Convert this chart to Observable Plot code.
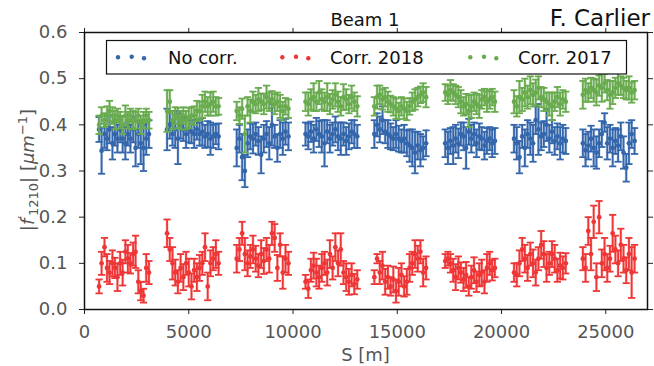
<!DOCTYPE html>
<html><head><meta charset="utf-8">
<script src="https://cdn.jsdelivr.net/npm/d3@7"></script>
<script src="https://cdn.jsdelivr.net/npm/@observablehq/plot@0.6"></script>
<style>body{margin:0;background:#fff} #chart svg{display:block}</style>
</head><body><div id="chart"></div>
<script>
// BPM positions S [m], 8 arcs x 20 points
const S = [
  700,820,960,1080,1200,1340,1460,1580,1710,1830,1960,2080,2200,2330,2450,2580,2700,2830,2960,3090,
  3960,4090,4220,4350,4480,4610,4740,4870,5000,5130,5260,5390,5520,5650,5780,5910,6040,6170,6300,6430,
  7300,7430,7560,7690,7820,7950,8080,8210,8340,8470,8600,8730,8860,8990,9120,9250,9380,9510,9640,9780,
  10600,10730,10860,10990,11120,11250,11380,11510,11640,11770,11900,12030,12160,12290,12420,12550,12680,12810,12940,13080,
  13900,14030,14160,14290,14420,14550,14680,14810,14940,15070,15200,15330,15460,15590,15720,15850,15980,16110,16240,16380,
  17300,17430,17550,17680,17800,17930,18050,18180,18300,18430,18550,18680,18800,18930,19050,19180,19300,19430,19550,19680,
  20600,20730,20860,20990,21120,21250,21380,21510,21640,21770,21900,22030,22160,22290,22420,22550,22680,22810,22940,23080,
  23900,24030,24160,24290,24420,24550,24680,24810,24940,25070,25200,25330,25460,25590,25720,25850,25980,26110,26240,26380
];
// |f1210| values in thousandths of um^-1
const noCorr = [
  390,344,380,370,390,360,380,370,390,370,360,380,370,390,350,380,360,350,370,380,
  390,400,380,390,370,400,390,380,390,385,380,390,380,385,375,380,370,375,380,375,
  350,370,330,300,360,375,370,380,365,335,370,380,360,400,375,350,380,370,385,375,
  380,375,385,370,390,380,375,360,385,370,380,390,375,370,380,365,375,385,380,375,
  380,400,390,410,385,380,375,370,380,370,365,370,360,355,350,340,355,345,350,360,
  360,350,365,355,370,360,380,375,350,385,370,380,360,375,370,355,365,370,360,365,
  370,360,330,375,350,380,370,360,410,390,375,380,400,370,385,365,375,360,370,365,
  360,345,355,370,350,340,360,380,405,360,370,350,365,355,375,340,307,360,380,365
];
const noCorrErr = [
  27,50,30,25,30,35,25,30,28,30,35,25,30,28,40,30,45,50,35,30,
  45,30,25,40,55,30,25,30,28,25,30,22,25,30,25,28,35,25,22,28,
  40,30,50,35,30,28,32,25,30,40,30,28,35,45,25,30,30,35,28,30,
  25,28,22,30,25,28,35,50,25,30,25,28,30,35,25,30,28,25,30,25,
  30,25,28,30,25,30,28,25,30,28,25,30,28,35,40,45,30,35,25,28,
  30,35,28,40,30,32,25,30,45,28,30,25,30,28,25,30,28,25,30,28,
  30,35,35,25,40,30,35,40,30,55,30,28,35,30,25,30,28,35,30,28,
  30,35,30,28,40,35,30,28,20,35,30,40,28,35,30,35,30,45,30,28
];
const corr2018 = [
  50,100,135,90,80,100,90,70,100,80,125,110,100,120,125,60,40,30,90,80,
  165,130,100,80,60,90,70,100,80,50,85,70,90,100,135,50,100,110,120,100,
  110,130,165,120,100,115,130,110,95,120,105,130,110,165,155,90,140,80,110,100,
  60,45,85,95,80,70,90,100,80,120,90,135,100,130,80,70,60,75,55,65,
  70,110,80,95,60,70,50,65,40,60,75,50,60,90,100,120,110,125,80,90,
  105,110,100,85,70,90,80,65,75,50,70,85,60,75,80,60,90,100,85,90,
  80,75,100,130,110,90,120,100,80,110,140,120,90,100,120,110,85,95,90,100,
  110,90,170,120,190,70,200,100,120,90,110,165,130,100,140,110,85,120,80,110
];
const corr2018Err = [
  15,25,20,30,25,28,22,30,25,28,25,30,22,25,35,25,20,15,30,25,
  30,25,35,28,25,30,28,25,30,28,25,30,28,25,30,30,28,25,30,25,
  30,25,25,35,28,25,30,28,25,30,28,25,30,25,30,28,25,35,30,25,
  15,20,25,28,30,25,30,25,28,30,25,30,28,35,25,30,28,25,22,20,
  15,10,25,30,28,25,20,28,25,30,25,22,28,30,25,30,28,25,30,25,
  15,15,20,25,28,25,22,25,28,20,25,28,22,25,28,25,30,25,22,20,
  20,25,28,25,30,28,25,30,28,25,30,28,30,25,28,30,25,28,25,22,
  25,30,30,35,35,30,35,30,35,30,28,40,30,28,35,30,28,35,55,30
];
const corr2017 = [
  400,420,410,420,430,420,410,420,410,400,420,410,420,410,410,420,400,410,420,410,
  430,450,410,420,415,410,420,410,415,420,420,430,430,440,450,440,445,450,440,440,
  430,420,435,380,440,430,450,445,455,450,445,460,450,455,445,450,440,430,440,435,
  450,445,455,460,450,470,455,450,460,445,455,465,450,440,460,455,445,460,450,440,
  440,460,465,455,460,450,445,440,435,430,440,435,430,440,450,455,460,465,470,460,
  470,465,475,470,465,460,450,440,445,430,440,450,445,440,455,460,450,455,460,450,
  450,440,460,455,470,460,475,465,470,480,460,455,450,445,440,450,460,445,455,450,
  465,475,470,480,475,470,485,480,490,475,465,470,480,490,485,480,475,480,470,475
];
const corr2017Err = [
  20,18,15,20,22,18,20,15,18,20,22,18,15,20,18,15,20,18,15,18,
  45,25,20,18,22,20,18,20,22,18,20,22,20,25,22,20,25,22,20,18,
  20,18,22,40,20,25,22,20,25,18,22,25,20,18,22,20,25,20,18,20,
  20,25,22,30,20,25,22,20,30,22,20,25,22,20,28,22,20,25,20,22,
  20,25,20,22,20,22,18,20,22,18,20,22,20,18,20,22,20,18,20,22,
  18,20,22,18,20,22,25,20,22,35,25,20,22,25,20,18,22,20,18,22,
  25,22,35,25,30,25,30,25,28,25,22,25,20,25,30,20,22,25,20,22,
  30,25,20,22,25,28,22,30,20,22,30,25,22,25,20,22,20,25,22,20
];
const seriesNames = ["No corr.", "Corr. 2018", "Corr. 2017"];
const seriesColors = ["#3466ac", "#ee3636", "#69ab4f"];
const xTicks = [0, 5000, 10000, 15000, 20000, 25000];
const yTicks = [0, 0.1, 0.2, 0.3, 0.4, 0.5, 0.6];

const vals = [noCorr, corr2018, corr2017];
const errs = [noCorrErr, corr2018Err, corr2017Err];
const groups = seriesNames.map((name, k) =>
  vals[k].map((v, i) => ({s: S[i], v: v / 1000, e: errs[k][i] / 1000, series: name})));

const cap = {draw(ctx) { ctx.moveTo(-3.6, 0); ctx.lineTo(3.6, 0); }};

const marks = [];
groups.forEach(g => {
  marks.push(
    Plot.ruleX(g, {x: "s", y1: d => d.v - d.e, y2: d => d.v + d.e, stroke: "series", strokeWidth: 3, strokeOpacity: 0.25}),
    Plot.ruleX(g, {x: "s", y1: d => d.v - d.e, y2: d => d.v + d.e, stroke: "series", strokeWidth: 1.8}),
    Plot.dot(g, {x: "s", y: d => d.v - d.e, symbol: cap, r: 3, fill: "none", stroke: "series", strokeWidth: 1.8}),
    Plot.dot(g, {x: "s", y: d => d.v + d.e, symbol: cap, r: 3, fill: "none", stroke: "series", strokeWidth: 1.8}),
    Plot.dot(g, {x: "s", y: "v", r: 2.4, fill: "series", stroke: "none"})
  );
});

const chart = Plot.plot({
  width: 654, height: 366,
  marginLeft: 84, marginRight: 7, marginTop: 32, marginBottom: 57,
  style: {fontFamily: "DejaVu Sans", fontSize: "18px", color: "#555", background: "#fff"},
  x: {domain: [0, 27000]},
  y: {domain: [0, 0.6]},
  color: {domain: seriesNames, range: seriesColors},
  marks: [
    ...marks,
    Plot.axisX({ticks: xTicks, tickSize: 5, tickPadding: 11, tickFormat: d => String(d), label: null, stroke: "#222", fill: "#555"}),
    Plot.axisX({anchor: "top", ticks: xTicks, tickSize: 5, tickFormat: () => "", label: null, stroke: "#222"}),
    Plot.axisY({ticks: yTicks, tickSize: 5, tickPadding: 12, tickFormat: d3.format(".1f"), label: null, stroke: "#222", fill: "#555"}),
    Plot.axisY({anchor: "right", ticks: yTicks, tickSize: 5, tickFormat: () => "", label: null, stroke: "#222"}),
    Plot.frame({stroke: "#111", strokeWidth: 1.5})
  ]
});
document.getElementById("chart").appendChild(chart);

const svg = d3.select(chart);
const ff = "DejaVu Sans";
// titles
svg.append("text").attr("x", 365).attr("y", 26).attr("text-anchor", "middle")
  .attr("font-family", ff).attr("font-size", 18).attr("fill", "#111").text("Beam 1");
svg.append("text").attr("x", 650).attr("y", 26).attr("text-anchor", "end")
  .attr("font-family", ff).attr("font-size", 23).attr("fill", "#111").text("F. Carlier");
// x label
svg.append("text").attr("x", 365.5).attr("y", 361).attr("text-anchor", "middle")
  .attr("font-family", ff).attr("font-size", 18).attr("fill", "#555").text("S [m]");
// y label
const yl = svg.append("text").attr("transform", "translate(34,170) rotate(-90)")
  .attr("text-anchor", "middle").attr("font-family", ff).attr("font-size", 18).attr("fill", "#555");
yl.append("tspan").text("|");
yl.append("tspan").attr("font-style", "italic").text("f");
yl.append("tspan").attr("font-size", 12).attr("dy", -7).text("′");
yl.append("tspan").attr("font-size", 13).attr("dy", 11).text("1210");
yl.append("tspan").attr("dy", -4).text("| [");
yl.append("tspan").attr("font-style", "italic").text("μm");
yl.append("tspan").attr("font-size", 13).attr("dy", -7).text("−1");
yl.append("tspan").attr("dy", 7).text("]");
// legend
const lg = svg.append("g");
lg.append("rect").attr("x", 106.5).attr("y", 40.5).attr("width", 520).attr("height", 33.5)
  .attr("fill", "#fff").attr("stroke", "#111").attr("stroke-width", 1.2);
const legX = [131.7, 296, 484];
const legT = [168, 330, 518];
const offs = [[-13.7, 0.6], [0, 0], [12.3, 1.6]];
seriesNames.forEach((name, k) => {
  offs.forEach(([dx, dy]) => lg.append("circle").attr("cx", legX[k] + dx).attr("cy", 56.7 + dy)
    .attr("r", 2.2).attr("fill", seriesColors[k]));
  lg.append("text").attr("x", legT[k]).attr("y", 63.5).attr("text-anchor", "start")
    .attr("font-family", ff).attr("font-size", 18).attr("fill", "#111").text(name);
});
</script></body></html>
